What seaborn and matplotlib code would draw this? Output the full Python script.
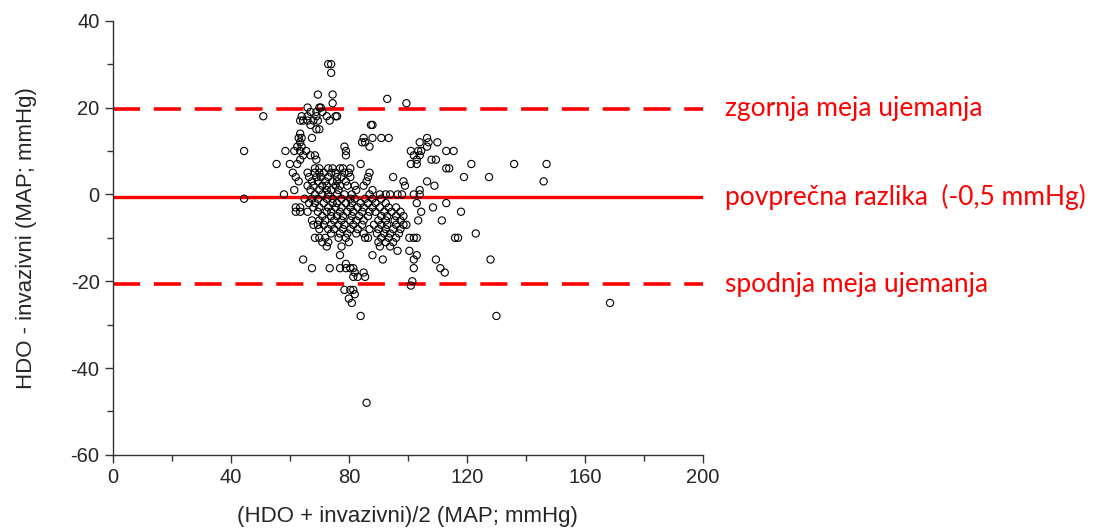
import pandas as pd
import matplotlib
matplotlib.use('Agg')
import matplotlib.pyplot as plt
import seaborn as sns
from matplotlib.ticker import MultipleLocator

# Bland-Altman data: difference (integer mmHg) and the averages read at each level
diff_levels = [30, 28, 23, 22, 21, 20, 19, 18, 17, 16, 15, 14, 13, 12, 11, 10, 9, 8, 7, 6,
               5, 4, 3, 2, 1, 0, -1, -2, -3, -4, -5, -6, -7, -8, -9, -10, -11, -12, -13,
               -14, -15, -16, -17, -18, -19, -20, -21, -22, -23, -24, -25, -28, -48]
avg_at_level = [
    [73, 74],
    [74],
    [69.5, 74.5],
    [93],
    [74.5, 99.5],
    [66, 70, 70.5],
    [67, 69, 71],
    [51, 64, 66, 69, 72.5, 75.5, 76],
    [63.5, 64.5, 66, 68, 69.5, 73.5],
    [67, 87.5, 88],
    [69, 70],
    [63.5],
    [63, 64, 67.5, 85, 88, 91, 93.5, 106.5],
    [63.5, 84.5, 85.5, 104, 107, 110],
    [62.5, 64, 78.5, 87, 106.5],
    [44.5, 58.5, 61.5, 63.5, 65.5, 79, 101, 103.5, 104.5, 113, 115.5],
    [64.5, 67, 68.5, 79, 102, 104],
    [63.5, 69, 103, 108, 109.5],
    [55.5, 60, 62.5, 84, 101, 103, 121.5, 136, 147],
    [68.5, 70, 73, 74.5, 77, 78, 80.5, 113, 114],
    [61, 66, 68.5, 70, 71.5, 74, 75.5, 78.5, 80, 87],
    [62, 66.5, 69, 70.5, 73, 76, 77.5, 80.5, 86.5, 95, 119, 127.5],
    [63, 67.5, 69.5, 72, 74.5, 76, 79, 86, 98.5, 106.5, 146],
    [66, 68, 71, 72.5, 75.5, 77, 79.5, 82, 85, 99, 109],
    [61.5, 67, 70, 72.5, 74, 76.5, 82.5, 88, 104],
    [58, 68.5, 71, 73, 76, 78.5, 81, 87, 90.5, 92.5, 94, 96.5, 98, 102, 104],
    [44.5, 65, 67.5, 69.5, 72.5, 74.5, 77.5, 80.5, 82, 85.5, 88, 91],
    [66.5, 68.5, 71.5, 74.5, 76, 79, 81, 84, 86.5, 89, 92.5, 103, 113],
    [62, 63.5, 68, 70, 73, 75.5, 77.5, 80.5, 83, 85, 88, 90.5, 93.5, 96, 108.5],
    [62, 63.5, 66, 69.5, 72.5, 74, 77, 79.5, 81.5, 84.5, 87, 89, 92, 94.5, 97.5, 104.5, 118],
    [71, 74, 76, 78, 81, 83.5, 86.5, 91, 93, 96, 98.5],
    [67.5, 70, 72, 75, 77.5, 80.5, 82.5, 85, 90, 92.5, 95.5, 97.5, 103.5, 111.5],
    [68, 69.5, 71.5, 74, 76.5, 78.5, 81.5, 84.5, 88.5, 91, 93, 96, 98.5, 99.5],
    [70, 73, 75, 78, 80.5, 83, 87, 90, 92.5, 95, 97.5],
    [74, 77, 79.5, 82.5, 85, 89.5, 92, 94, 97, 123],
    [68.5, 70, 72, 76.5, 79, 85.5, 86.5, 91, 93.5, 96, 100.5, 102, 103, 116, 117],
    [71, 73, 80, 90, 92.5, 95],
    [72.5, 77.5, 90.5, 94],
    [96.5, 100.5],
    [77, 88, 103],
    [64.5, 91.5, 102, 109.5, 128],
    [79],
    [67.5, 73.5, 77, 79, 80.5, 81.5, 102, 111],
    [82, 85, 112.5],
    [81.5, 83, 85.5],
    [101.5],
    [101],
    [78.5, 80.5, 81.5],
    [82],
    [80],
    [81, 168.5],
    [84, 130],
    [86],
]

mean_diff = -0.5
upper_loa = 19.7
lower_loa = -20.7
labels = ['zgornja meja ujemanja', 'povprečna razlika  (-0,5 mmHg)', 'spodnja meja ujemanja']

rows = []
for d, xs in zip(diff_levels, avg_at_level):
    for x in xs:
        rows.append({'avg': x, 'diff': d})
data = pd.DataFrame(rows)

sns.set_style('ticks')
plt.rcParams['font.family'] = ['Liberation Sans', 'DejaVu Sans']
plt.rcParams['axes.unicode_minus'] = False

fig = plt.figure(figsize=(10.95, 5.32), dpi=100)
ax = fig.add_axes([0.103, 0.145, 0.539, 0.816])

sns.scatterplot(data=data, x='avg', y='diff', ax=ax, s=27, marker='o',
                facecolor='none', edgecolor='black', linewidth=0.8, zorder=3)

ax.axhline(upper_loa, color='#ff0000', lw=2.6, dashes=(7.5, 3.8), zorder=2)
ax.axhline(mean_diff, color='#ff0000', lw=2.4, zorder=2)
ax.axhline(lower_loa, color='#ff0000', lw=2.6, dashes=(7.5, 3.8), zorder=2)

for yv, txt in zip([upper_loa, mean_diff, lower_loa], labels):
    ax.text(207.5, yv, txt, color='#ff0000', fontsize=19, va='center', ha='left',
            family=['Lato', 'DejaVu Sans'], clip_on=False)

ax.set_xlim(0, 200)
ax.set_ylim(-60, 40)
ax.xaxis.set_major_locator(MultipleLocator(40))
ax.xaxis.set_minor_locator(MultipleLocator(20))
ax.yaxis.set_major_locator(MultipleLocator(20))
ax.yaxis.set_minor_locator(MultipleLocator(10))
ax.tick_params(which='major', direction='out', length=6, width=1, labelsize=14.5, color='#333333')
ax.tick_params(which='minor', direction='out', length=4, width=1, color='#333333')
ax.set_xlabel('(HDO + invazivni)/2 (MAP; mmHg)', fontsize=16, labelpad=14)
ax.set_ylabel('HDO - invazivni (MAP; mmHg)', fontsize=16, labelpad=24)
sns.despine(ax=ax)
for sp in ['left', 'bottom']:
    ax.spines[sp].set_color('#333333')
    ax.spines[sp].set_linewidth(1)

fig.savefig('out.png', dpi=100)
